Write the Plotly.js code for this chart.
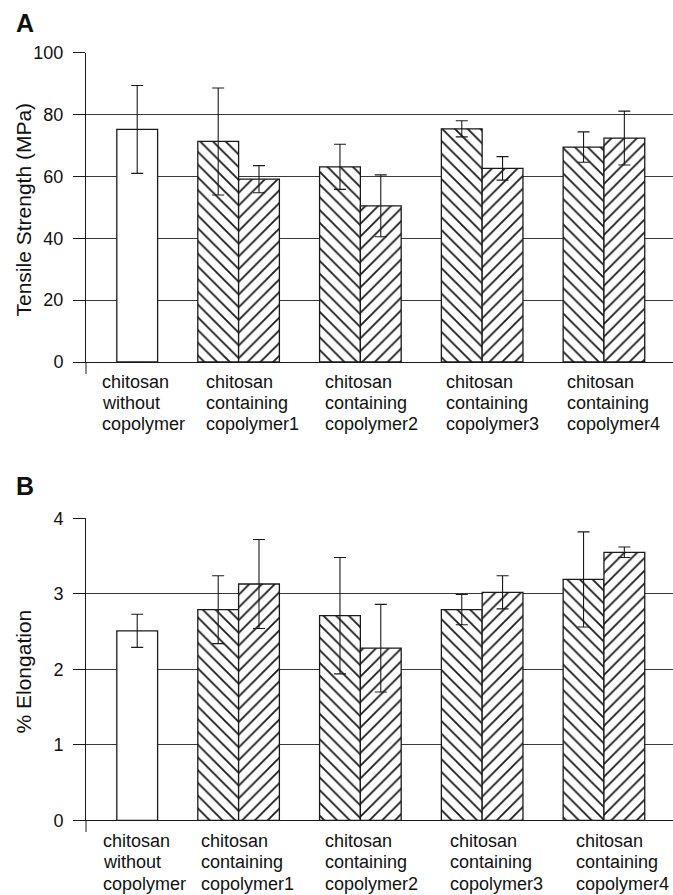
<!DOCTYPE html>
<html>
<head>
<meta charset="utf-8">
<script src="https://cdn.plot.ly/plotly-3.0.1.min.js"></script>
<style>
  html, body { margin: 0; padding: 0; background: #fff; }
  #chart { width: 673px; height: 895px; }
</style>
</head>
<body>
<div id="chart"></div>
<script>
// ---------------- data ----------------
const categories = [
  'chitosan<br>without<br>copolymer',
  'chitosan<br>containing<br>copolymer1',
  'chitosan<br>containing<br>copolymer2',
  'chitosan<br>containing<br>copolymer3',
  'chitosan<br>containing<br>copolymer4'
];
// Panel A: tensile strength (MPa)
const tensileA = [null, 71.3, 63.1, 75.4, 69.5];
const tensileAErr = [0, 17.3, 7.3, 2.6, 4.9];
const tensileB = [75.2, 59.1, 50.5, 62.6, 72.4];
const tensileBErr = [14.2, 4.4, 10.0, 3.8, 8.7];
// Panel B: % elongation
const elongA = [null, 2.79, 2.71, 2.79, 3.19];
const elongAErr = [0, 0.45, 0.77, 0.20, 0.63];
const elongB = [2.51, 3.13, 2.28, 3.02, 3.55];
const elongBErr = [0.22, 0.59, 0.58, 0.22, 0.07];
const yTitleA = 'Tensile Strength (MPa)';
const yTitleB = '% Elongation';
const panelLabels = ['A', 'B'];

// ---------------- layout helpers ----------------
const W = 673, H = 895;
const L = 86;                         // left margin (px)
const plotW = W - L;
const py = p => (H - p) / H;          // pixel y -> paper y
const px = p => (p - L) / plotW;      // pixel x -> paper x
const FONT = 'Liberation Sans, Arial, Helvetica, sans-serif';
const INK = '#111';
const idx = categories.map((c, i) => i);
const BW = 0.335;

function bars(xa, ya, vals, errs, shape) {
  return {
    type: 'bar', x: idx, y: vals, xaxis: xa, yaxis: ya,
    width: BW, offset: shape === '\\' ? -BW : 0,
    showlegend: false, hoverinfo: 'y',
    marker: {
      color: '#ffffff',
      line: { color: '#1a1a1a', width: 1.3 },
      pattern: {
        shape: Array.isArray(shape) ? shape : vals.map(() => shape),
        fgcolor: '#1a1a1a', bgcolor: '#ffffff', size: 9, solidity: 0.2
      }
    },
    error_y: { type: 'data', array: errs, visible: true, color: '#1a1a1a', thickness: 1.1, width: 6 }
  };
}

const shapeB = tensileB.map((v, i) => i === 0 ? '' : '/');
const data = [
  bars('x', 'y', tensileA, tensileAErr, '\\'),
  bars('x', 'y', tensileB, tensileBErr, shapeB),
  bars('x2', 'y2', elongA, elongAErr, '\\'),
  bars('x2', 'y2', elongB, elongBErr, shapeB)
];

const xRange = [-0.253, 4.567];
const topDom = [py(362), py(52.7)];
const botDom = [py(820.3), py(518.3)];

function yax(range, dtick, dom, anchor) {
  return {
    domain: dom, anchor: anchor, range: range, dtick: dtick, tick0: 0,
    showgrid: true, gridcolor: '#3a3a3a', gridwidth: 1,
    zeroline: false, showline: true, linecolor: '#1a1a1a', linewidth: 1,
    ticks: 'outside', ticklen: 12, tickcolor: '#1a1a1a', tickwidth: 1,
    ticklabelstandoff: 6,
    tickfont: { family: FONT, size: 18, color: INK },
    fixedrange: true
  };
}
function xax(anchor) {
  return {
    domain: [0, 1], anchor: anchor, range: xRange,
    showgrid: false, zeroline: false, showline: true, linecolor: '#1a1a1a', linewidth: 1,
    ticks: '', showticklabels: false, fixedrange: true
  };
}

const labelLeftTop = [101.2, 204.8, 324, 444.6, 565.7];
const labelLeftBot = [101.7, 200.4, 324, 448.5, 575];
const baseTop = [388, 409.5, 430];
const baseBot = [847, 868.5, 890];

const annotations = [];
function addLabels(lefts, bases) {
  categories.forEach((c, i) => {
    c.split('<br>').forEach((line, k) => {
      annotations.push({
        xref: 'paper', yref: 'paper', x: px(lefts[i]), y: py(bases[k] - 6.3),
        xanchor: 'left', yanchor: 'middle', showarrow: false, text: line,
        font: { family: FONT, size: 18, color: INK }, borderpad: 0
      });
    });
  });
}
addLabels(labelLeftTop, baseTop);
addLabels(labelLeftBot, baseBot);
// panel letters
annotations.push({
  xref: 'paper', yref: 'paper', x: px(14), y: py(22.5), xanchor: 'left', yanchor: 'middle',
  showarrow: false, text: '<b>' + panelLabels[0] + '</b>', font: { family: FONT, size: 25, color: INK }
});
annotations.push({
  xref: 'paper', yref: 'paper', x: px(14), y: py(485.5), xanchor: 'left', yanchor: 'middle',
  showarrow: false, text: '<b>' + panelLabels[1] + '</b>', font: { family: FONT, size: 25, color: INK }
});
// y-axis titles
annotations.push({
  xref: 'paper', yref: 'paper', x: px(23), y: py(209.5), xanchor: 'center', yanchor: 'middle',
  textangle: -90, showarrow: false, text: yTitleA, font: { family: FONT, size: 21, color: INK }
});
annotations.push({
  xref: 'paper', yref: 'paper', x: px(23), y: py(671.5), xanchor: 'center', yanchor: 'middle',
  textangle: -90, showarrow: false, text: yTitleB, font: { family: FONT, size: 21, color: INK }
});

const shapes = [
  { type: 'line', xref: 'paper', yref: 'paper', x0: 0, x1: 0, y0: py(362), y1: py(374), line: { color: '#1a1a1a', width: 1 } },
  { type: 'line', xref: 'paper', yref: 'paper', x0: 0, x1: 0, y0: py(820.3), y1: py(832), line: { color: '#1a1a1a', width: 1 } }
];

const layout = {
  width: W, height: H,
  margin: { l: L, r: 0, t: 0, b: 0, pad: 0 },
  paper_bgcolor: '#ffffff', plot_bgcolor: '#ffffff',
  barmode: 'overlay',
  font: { family: FONT, color: INK },
  xaxis: xax('y'),
  yaxis: yax([0, 100], 20, topDom, 'x'),
  xaxis2: xax('y2'),
  yaxis2: yax([0, 4], 1, botDom, 'x2'),
  annotations: annotations,
  shapes: shapes
};

Plotly.newPlot('chart', data, layout, { displayModeBar: false, staticPlot: true });
</script>
</body>
</html>
